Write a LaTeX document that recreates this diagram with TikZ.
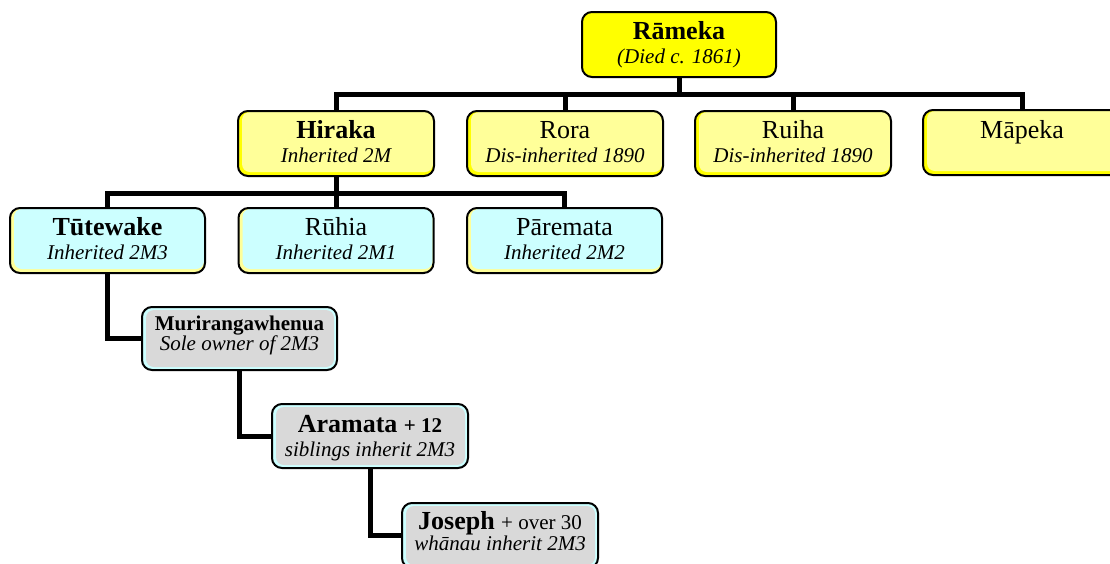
\documentclass[tikz,border=0pt]{standalone}
\usepackage{fontspec}
\setmainfont{Liberation Serif}
\usetikzlibrary{backgrounds}
\definecolor{ylight}{HTML}{FFFF99}
\definecolor{ybright}{HTML}{FFFF00}
\definecolor{cfill}{HTML}{CCFFFF}
\definecolor{gfill}{HTML}{D9D9D9}
\tikzset{
  box/.style={rectangle, rounded corners=10pt, draw=black, line width=2pt,
    minimum width=196pt, minimum height=65pt, inner sep=0pt},
  topbox/.style={box, fill=ybright},
  yellowbox/.style={box, fill=ybright,
    path picture={\fill[ylight, rounded corners=8pt]
      ([shift={(4pt,4pt)}]path picture bounding box.south west) rectangle
      ([shift={(-1pt,-1pt)}]path picture bounding box.north east);}},
  cyanbox/.style={box, fill=ylight,
    path picture={\fill[cfill, rounded corners=8pt]
      ([shift={(4pt,4pt)}]path picture bounding box.south west) rectangle
      ([shift={(-1pt,-1pt)}]path picture bounding box.north east);}},
  greybox/.style={box, fill=cfill,
    path picture={\fill[gfill, rounded corners=8pt]
      ([shift={(4pt,3pt)}]path picture bounding box.south west) rectangle
      ([shift={(-3pt,-3pt)}]path picture bounding box.north east);}},
  namebig/.style={anchor=base, inner sep=0pt, font=\fontsize{26}{28}\selectfont},
  subline/.style={anchor=base, inner sep=0pt, font=\fontsize{21}{24}\selectfont\itshape},
  conn/.style={draw=black, line width=5pt},
}
\begin{document}
\begin{tikzpicture}[x=1pt, y=-1pt]
\useasboundingbox (0,0) rectangle (1110,563);
\clip (0,0) rectangle (1110,563);

% level 0
\node[topbox, minimum width=194pt] (rameka) at (679,44.5) {};
\node[namebig] (rameka-a) at ([yshift=5pt]rameka.center) {\bfseries Rāmeka};
\node[subline] (rameka-b) at ([yshift=-19pt]rameka.center) {(Died c. 1861)};

% level 1
\node[yellowbox] (hiraka) at (336,143.5) {};
\node[namebig] (hiraka-a) at ([yshift=5pt]hiraka.center) {\bfseries Hiraka};
\node[subline] (hiraka-b) at ([yshift=-19pt]hiraka.center) {Inherited 2M};

\node[yellowbox] (rora) at (565,143.5) {};
\node[namebig] (rora-a) at ([yshift=5pt]rora.center) {Rora};
\node[subline] (rora-b) at ([yshift=-19pt]rora.center) {Dis-inherited 1890};

\node[yellowbox] (ruiha) at (793,143.5) {};
\node[namebig] (ruiha-a) at ([yshift=5pt]ruiha.center) {Ruiha};
\node[subline] (ruiha-b) at ([yshift=-19pt]ruiha.center) {Dis-inherited 1890};

\node[yellowbox, minimum width=198pt] (mapeka) at (1022,142.5) {};
\node[namebig] (mapeka-a) at ([yshift=4pt]mapeka.center) {Māpeka};

% level 2
\node[cyanbox, minimum width=195pt] (tutewake) at (107.5,240.5) {};
\node[namebig] (tutewake-a) at ([yshift=5pt]tutewake.center) {\bfseries Tūtewake};
\node[subline] (tutewake-b) at ([yshift=-19pt]tutewake.center) {Inherited 2M3};

\node[cyanbox, minimum width=195pt] (ruhia) at (336,240.5) {};
\node[namebig] (ruhia-a) at ([yshift=5pt]ruhia.center) {Rūhia};
\node[subline] (ruhia-b) at ([yshift=-19pt]ruhia.center) {Inherited 2M1};

\node[cyanbox, minimum width=195pt] (paremata) at (564.5,240.5) {};
\node[namebig] (paremata-a) at ([yshift=5pt]paremata.center) {Pāremata};
\node[subline] (paremata-b) at ([yshift=-19pt]paremata.center) {Inherited 2M2};

% descendants
\node[greybox, minimum width=195pt, minimum height=63pt] (muri) at (239.5,338.5) {};
\node[anchor=base, inner sep=0pt, font=\fontsize{21}{24}\selectfont\bfseries] (muri-a) at ([yshift=8.5pt]muri.center) {Murirangawhenua};
\node[subline] (muri-b) at ([yshift=-12pt]muri.center) {Sole owner of 2M3};

\node[greybox, minimum width=196pt, minimum height=64pt] (aramata) at (370,436) {};
\node[namebig] (aramata-a) at ([yshift=3.7pt]aramata.center) {\bfseries Aramata \fontsize{21}{24}\selectfont + 12};
\node[subline] (aramata-b) at ([yshift=-20.7pt]aramata.center) {siblings inherit 2M3};

\node[greybox, minimum width=196pt] (joseph) at (500,535.5) {};
\node[namebig] (joseph-a) at ([yshift=6.2pt]joseph.center) {\bfseries Joseph \mdseries\fontsize{21}{24}\selectfont + over 30};
\node[subline] (joseph-b) at ([yshift=-15.2pt]joseph.center) {whānau inherit 2M3};

% connectors
\begin{scope}[on background layer]
\coordinate (bar1) at (679,94);
\coordinate (bar2) at (336,193);
\draw[conn] (rameka.south) -- (rameka.south |- bar1);
\draw[conn] (hiraka.north) -- (hiraka.north |- bar1) -| (mapeka.north);
\draw[conn] (rora.north) -- (rora.north |- bar1);
\draw[conn] (ruiha.north) -- (ruiha.north |- bar1);
\draw[conn] (hiraka.south) -- (ruhia.north);
\draw[conn] (tutewake.north) -- (tutewake.north |- bar2) -| (paremata.north);
\draw[conn] (tutewake.south) |- (muri.west);
\draw[conn] (muri.south) |- (aramata.west);
\draw[conn] (aramata.south) |- (joseph.west);
\end{scope}
\end{tikzpicture}
\end{document}
